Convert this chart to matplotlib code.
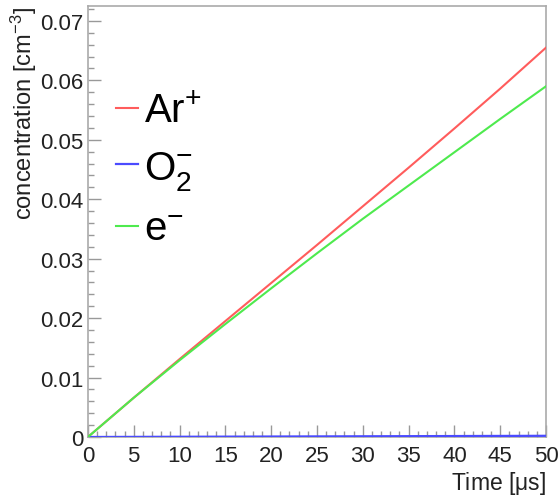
import matplotlib
matplotlib.use("Agg")
import matplotlib.pyplot as plt
from matplotlib.ticker import MultipleLocator, FuncFormatter

plt.rcParams['font.family'] = ['Liberation Sans', 'DejaVu Sans']
plt.rcParams['mathtext.fontset'] = 'custom'
plt.rcParams['mathtext.rm'] = 'Liberation Sans'
plt.rcParams['mathtext.it'] = 'Liberation Sans'

# values
time_us = [0, 5, 10, 15, 20, 25, 30, 35, 40, 45, 50]
ar_plus = [0, 0.0066, 0.0131, 0.0195, 0.0259, 0.0323, 0.0388, 0.0453, 0.0519, 0.0586, 0.0655]
o2_minus = [0, 0.00002, 0.00004, 0.00006, 0.00008, 0.0001, 0.00012, 0.00014, 0.00016, 0.00018, 0.0002]
e_minus = [0, 0.0066, 0.0129, 0.0190, 0.0250, 0.0309, 0.0367, 0.0423, 0.0479, 0.0535, 0.0590]

fig = plt.figure(figsize=(5.6, 5.02), dpi=100)
ax = fig.add_axes([0.157, 0.1275, 0.818, 0.8585])

ax.plot(time_us, ar_plus, color='#ff5c5c', lw=1.5, label=r'Ar$^{+}$', zorder=3)
ax.plot(time_us, o2_minus, color='#4b4bff', lw=1.6, label=r'O$_{2}^{-}$', zorder=3)
ax.plot(time_us, e_minus, color='#4eea4e', lw=1.5, label=r'e$^{-}$', zorder=3)

ax.set_xlim(0, 50)
ax.set_ylim(0, 0.0725)

ax.xaxis.set_major_locator(MultipleLocator(5))
ax.xaxis.set_minor_locator(MultipleLocator(1))
ax.yaxis.set_major_locator(MultipleLocator(0.01))
ax.yaxis.set_minor_locator(MultipleLocator(0.002))
ax.yaxis.set_major_formatter(FuncFormatter(lambda v, p: '%g' % round(v, 4)))
ax.xaxis.set_major_formatter(FuncFormatter(lambda v, p: '%g' % v))

ax.tick_params(which='both', direction='in', colors='#999999', labelcolor='#222222',
               top=False, right=False, labelsize=16, width=1)
ax.tick_params(which='major', length=9)
ax.tick_params(which='minor', length=4.5)
ax.tick_params(axis='x', pad=6)
ax.tick_params(axis='y', pad=3)
for s in ax.spines.values():
    s.set_color('#aaaaaa')
    s.set_linewidth(1.2)

ax.set_xlabel(r'Time [$\mu$s]', fontsize=16.5, loc='right', color='#222222', labelpad=2)
ax.set_ylabel(r'concentration [cm$^{-3}$]', fontsize=17, loc='top', color='#222222', labelpad=1)

leg = ax.legend(loc='upper left', bbox_to_anchor=(0.0, 0.865), fontsize=29, frameon=False,
                handlelength=0.55, handletextpad=0.15, labelspacing=0.45, borderaxespad=0.3)

fig.savefig('out.png', dpi=100)
